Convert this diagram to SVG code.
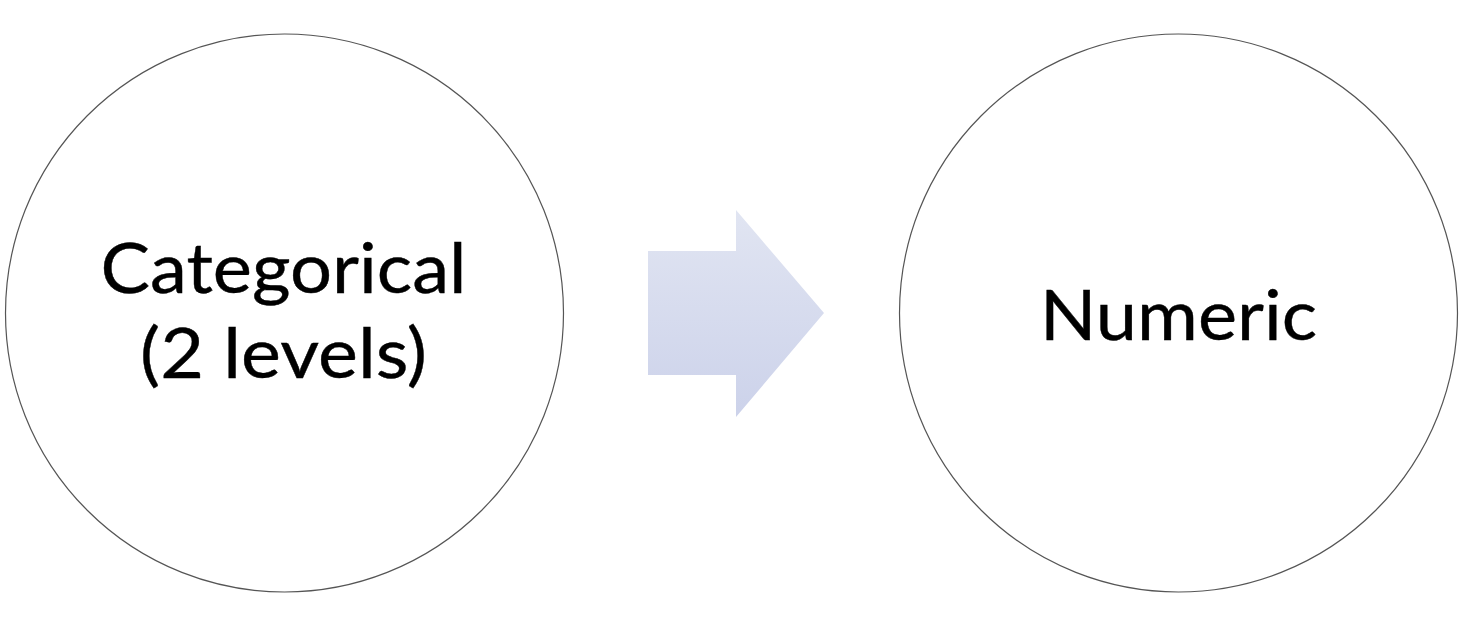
<svg xmlns="http://www.w3.org/2000/svg" width="1466" height="632" viewBox="0 0 1466 632">
  <defs>
    <linearGradient id="arrowGrad" x1="0" y1="0" x2="0" y2="1">
      <stop offset="0" stop-color="#e1e5f2"/>
      <stop offset="1" stop-color="#ccd2ea"/>
    </linearGradient>
  </defs>
  <style>
    .node { fill: #ffffff; stroke: #555555; stroke-width: 1.2; }
    .label { font-family: Lato, "Open Sans", sans-serif; font-size: 70px; fill: #000000; stroke: #000000; stroke-width: 0.4; text-anchor: middle; }
  </style>
  <rect x="0" y="0" width="1466" height="632" fill="#ffffff"/>
  <g id="node-categorical">
    <circle class="node" cx="284.5" cy="313" r="279"/>
    <text class="label"><tspan x="283.5" y="293" textLength="366" lengthAdjust="spacingAndGlyphs">Categorical</tspan><tspan x="283.5" y="378" textLength="287" lengthAdjust="spacingAndGlyphs">(2 levels)</tspan></text>
  </g>
  <g id="node-numeric">
    <circle class="node" cx="1178.5" cy="313" r="279"/>
    <text class="label" x="1178.5" y="340" textLength="277" lengthAdjust="spacingAndGlyphs">Numeric</text>
  </g>
  <g id="connectors">
    <polygon points="648,251 736,251 736,210 824,313 736,417 736,375 648,375" fill="url(#arrowGrad)"/>
  </g>
</svg>
